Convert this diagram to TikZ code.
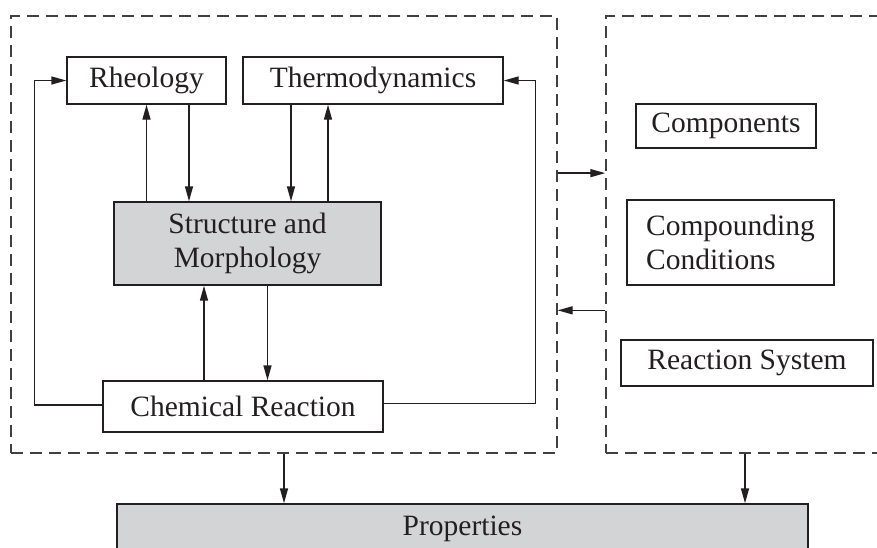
\documentclass[tikz,border=0pt]{standalone}
\usepackage{fontspec}
\setmainfont{Liberation Serif}
\usepackage{xcolor}
\usetikzlibrary{arrows.meta,positioning,calc}
\definecolor{boxgray}{HTML}{D3D4D6}
\definecolor{inkgray}{HTML}{231F20}

\begin{document}
\begin{tikzpicture}[x=1pt,y=-1pt,>={Triangle[length=15pt,width=8pt]},
  font=\fontsize{29.5}{34}\selectfont,text=inkgray,
  blk/.style={draw=inkgray,line width=1.4pt,inner sep=0pt,align=center},
  shade/.style={blk,fill=boxgray},
  grp/.style={draw=black!75,line width=1.4pt,dash pattern=on 12pt off 7pt,inner sep=0pt},
  link/.style={->,draw=inkgray,line width=1.4pt}]
  \useasboundingbox (0,0) rectangle (877,547);
  \clip (0,0) rectangle (877,547);
  % dashed groups
  \node[grp,minimum width=546pt,minimum height=437pt] (lgrp) at (284,234.5) {};
  \node[grp,minimum width=394pt,minimum height=437pt] (rgrp) at (803,234.5) {};
  % left group
  \node[blk,minimum width=159pt,minimum height=47pt] (rheo) at (146.5,80.5) {Rheology};
  \node[blk,minimum width=260pt,minimum height=47pt] (thermo) at (373,80.5) {Thermodynamics};
  \node[shade,minimum width=267pt,minimum height=83pt] (struct) at (247.5,243.5) {Structure and\\Morphology};
  \node[blk,minimum width=280pt,minimum height=51pt] (chem) at (243,406.5) {Chemical Reaction};
  % right group
  \node[blk,minimum width=180pt,minimum height=44pt] (comp) at (726,126) {Components};
  \node[blk,align=left,minimum width=207pt,minimum height=85pt] (cond) at (730.5,242.5) {Compounding\\Conditions};
  \node[blk,minimum width=252pt,minimum height=46pt] (reac) at (747,363) {Reaction System};
  \node[shade,minimum width=691pt,minimum height=50pt] (prop) at (462.5,529) {Properties};
  % links inside the left group
  \draw[link] (struct.north -| rheo.south) -- (rheo.south);
  \draw[link] ([xshift=42.5pt]rheo.south) -- ([xshift=42.5pt]rheo.south |- struct.north);
  \draw[link] ([xshift=-82pt]thermo.south) -- ([xshift=-82pt]thermo.south |- struct.north);
  \draw[link] ([xshift=-45pt]thermo.south |- struct.north) -- ([xshift=-45pt]thermo.south);
  \draw[link] ([xshift=-43.5pt]chem.north -| struct.south) -- ([xshift=-43.5pt]struct.south);
  \draw[link] ([xshift=20pt]struct.south) -- ([xshift=20pt]struct.south |- chem.north);
  \draw[link] ([yshift=1.5pt]chem.west) -- ++(-68pt,0) |- (rheo.west);
  \draw[link] ([yshift=3pt]chem.east) -- ++(152pt,0) |- (thermo.east);
  % links between the groups
  \draw[link] ($(lgrp.north east)!0.36!(lgrp.south east)$) -- ($(rgrp.north west)!0.36!(rgrp.south west)$);
  \draw[link] ($(rgrp.north west)!0.673!(rgrp.south west)$) -- ($(lgrp.north east)!0.673!(lgrp.south east)$);
  \draw[link] (lgrp.south) -- (lgrp.south |- prop.north);
  \draw[link] ([xshift=-58pt]rgrp.south) -- ([xshift=-58pt]rgrp.south |- prop.north);
\end{tikzpicture}
\end{document}
